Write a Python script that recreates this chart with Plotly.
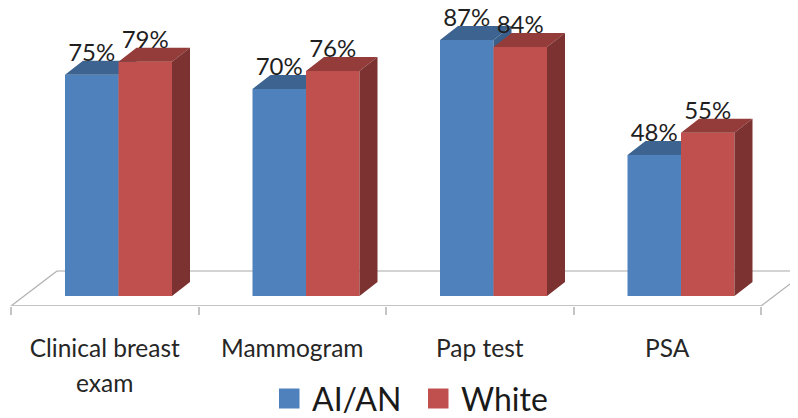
import plotly.graph_objects as go

categories = ["Clinical breast", "Mammogram", "Pap test", "PSA"]
second_line = ["exam", "", "", ""]
# the labels show them rounded
ai_an = [75.0, 70.2, 86.8, 47.8]
white = [79.4, 76.3, 84.4, 55.3]

# pixel geometry of the picture, everything else is worked out from it
W, H = 798, 418
PAGE = 8          # the browser's body margin in front of the figure
X_STEP = 187.5    # px per category
X_MID = 104.75    # px of first category centre
Y_STEP = 2.95     # px per percent
Y_BASE = 296      # px of value 0
Y_AXIS = 306      # px of the front floor edge


def ux(px):
    return (px - X_MID) / X_STEP


def uy(px):
    return (Y_BASE - px) / Y_STEP


def paper_x(px):
    return (px - PAGE) / (W - PAGE)


def paper_y(px):
    return (Y_AXIS - px) / (Y_AXIS - PAGE)


BAR_W = 53.5 / X_STEP
BLUE_OFF = (65 - 104.75) / X_STEP
RED_OFF = (118.5 - 104.75) / X_STEP
DX = 18 / X_STEP
DY = 14 / Y_STEP
xrange = [ux(PAGE), ux(W)]
yrange = [uy(Y_AXIS), uy(PAGE)]


def faces(values, offset, top_col, side_col, ax):
    # depth faces of a box, one trace for the top and one for the side
    tx, ty, sx, sy = [], [], [], []
    for i, v in enumerate(values):
        l = i + offset
        r = l + BAR_W
        tx += [l, l + DX, r + DX, r, l, None]
        ty += [v, v + DY, v + DY, v, v, None]
        sx += [r, r + DX, r + DX, r, r, None]
        sy += [0, DY, v + DY, v, 0, None]
    out = []
    for x, y, c in ((tx, ty, top_col), (sx, sy, side_col)):
        out.append(go.Scatter(x=x, y=y, mode="lines", fill="toself", fillcolor=c,
                              line=dict(color=c, width=0), hoverinfo="skip",
                              showlegend=False, xaxis=ax[0], yaxis=ax[1]))
    return out


fig = go.Figure()

# blue series on the base axes
fig.add_trace(go.Bar(x=list(range(4)), y=ai_an, name="AI/AN", width=BAR_W, offset=BLUE_OFF,
                     marker=dict(color="#4F81BD", line=dict(width=0)), showlegend=False))
for t in faces(ai_an, BLUE_OFF, "#3D6490", "#3A5F8B", ("x", "y")):
    fig.add_trace(t)

# red series on overlay axes so it sits in front of the blue boxes
fig.add_trace(go.Bar(x=list(range(4)), y=white, name="White", width=BAR_W, offset=RED_OFF,
                     marker=dict(color="#C0504D", line=dict(width=0)), showlegend=False,
                     xaxis="x2", yaxis="y2"))
for t in faces(white, RED_OFF, "#943C39", "#7B3230", ("x2", "y2")):
    fig.add_trace(t)

# percent labels
for values, offset in ((ai_an, BLUE_OFF), (white, RED_OFF)):
    fig.add_trace(go.Scatter(x=[i + offset + BAR_W / 2 for i in range(4)],
                             y=[v + 20 / Y_STEP for v in values],
                             mode="text", text=[f"{v:.0f}%" for v in values],
                             textposition="middle center",
                             textfont=dict(family="Lato", size=24, color="#1f1f1f"),
                             cliponaxis=False, hoverinfo="skip", showlegend=False,
                             xaxis="x2", yaxis="y2"))

# floor of the 3d box
floor_y = uy(271)
floor_dx = 46 / X_STEP
shapes = [
    dict(type="line", layer="below", xref="x", yref="y", x0=-0.5, x1=-0.5 + floor_dx,
         y0=yrange[0], y1=floor_y, line=dict(color="#b0b0b0", width=1.2)),
    dict(type="line", layer="below", xref="x", yref="y", x0=-0.5 + floor_dx, x1=3.5 + floor_dx,
         y0=floor_y, y1=floor_y, line=dict(color="#a8a8a8", width=1)),
    dict(type="line", layer="below", xref="x", yref="y", x0=3.5, x1=3.5 + floor_dx,
         y0=yrange[0], y1=floor_y, line=dict(color="#b0b0b0", width=1.2)),
    dict(type="line", layer="below", xref="x", yref="y", x0=-0.5, x1=3.5,
         y0=yrange[0], y1=yrange[0], line=dict(color="#c4c4c4", width=2)),
]

annotations = []
for i, txt in enumerate(second_line):
    if txt:
        annotations.append(dict(x=i, y=paper_y(382), xref="x", yref="paper", yanchor="middle",
                                text=txt, showarrow=False,
                                font=dict(family="Lato", size=24.5, color="#262626")))

# legend, drawn by hand because the built-in swatch can't get this big
legend = [("AI/AN", "#4F81BD", 279, 310), ("White", "#C0504D", 428, 459)]
for name, col, sq_px, txt_px in legend:
    shapes.append(dict(type="rect", xref="paper", yref="paper",
                       x0=paper_x(sq_px), x1=paper_x(sq_px + 20.5),
                       y0=paper_y(408.5), y1=paper_y(388.5),
                       fillcolor=col, line=dict(width=0)))
    annotations.append(dict(x=paper_x(txt_px), y=paper_y(398), xref="paper", yref="paper",
                            xanchor="left", yanchor="middle", text=name, showarrow=False,
                            font=dict(family="Lato", size=32, color="#1a1a1a")))

fig.update_layout(
    width=W - PAGE, height=H - PAGE, autosize=False, margin=dict(l=0, r=0, t=0, b=H - Y_AXIS),
    plot_bgcolor="white", paper_bgcolor="white", showlegend=False, barmode="overlay",
    shapes=shapes, annotations=annotations,
    xaxis=dict(range=xrange, tickmode="array", tickvals=list(range(4)), ticktext=categories,
               ticks="", showgrid=False, zeroline=False, showline=False,
               tickfont=dict(family="Lato", size=24.5, color="#262626"), ticklabelstandoff=25,
               minor=dict(tickmode="array", tickvals=[-0.5, 0.5, 1.5, 2.5, 3.5], ticks="outside",
                          ticklen=8, tickwidth=2, tickcolor="#c4c4c4", showgrid=False)),
    yaxis=dict(range=yrange, visible=False),
    xaxis2=dict(range=xrange, overlaying="x", visible=False),
    yaxis2=dict(range=yrange, overlaying="y", visible=False),
)

fig.write_html("out.html")
